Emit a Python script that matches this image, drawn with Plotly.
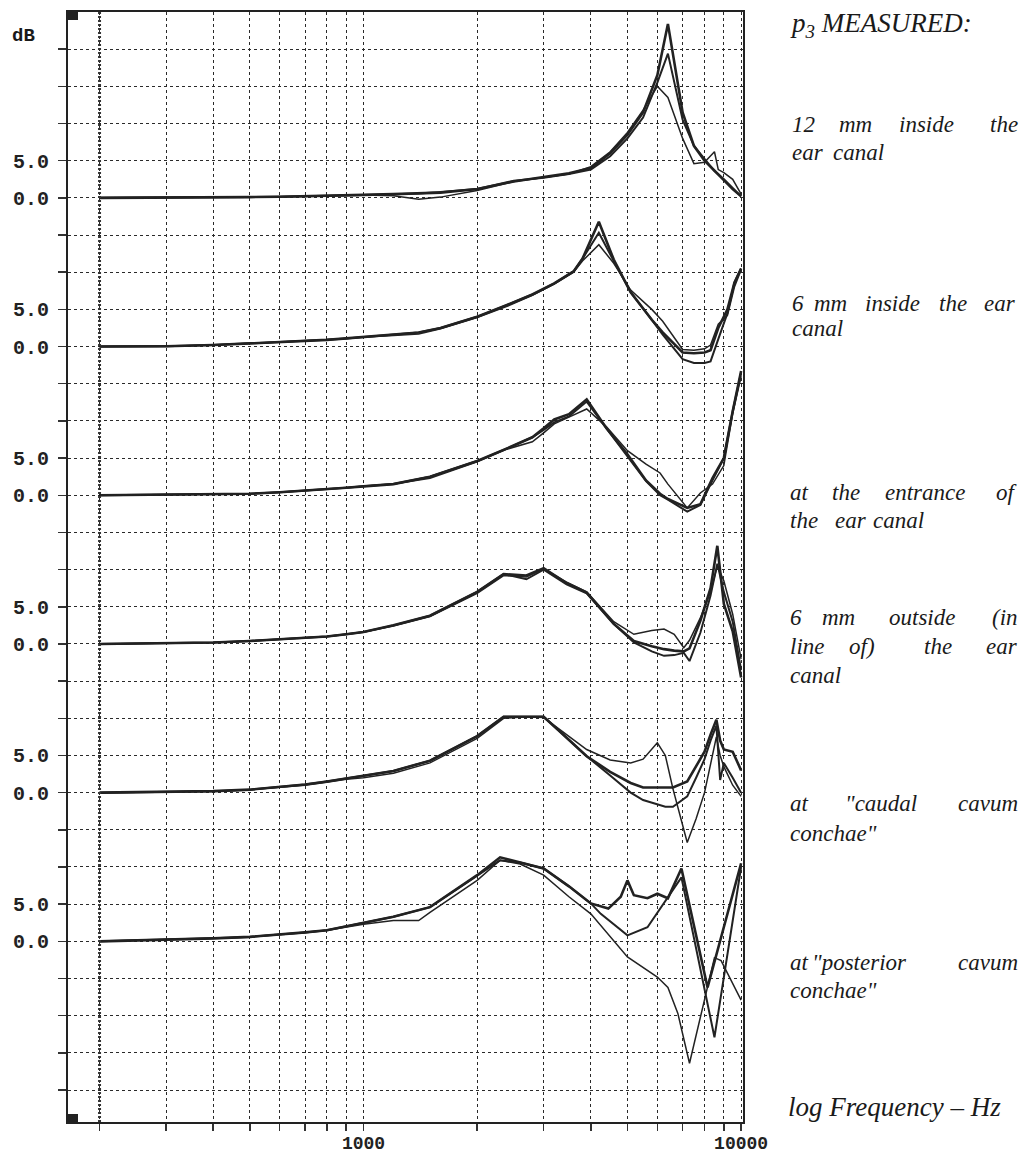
import plotly.graph_objects as go

# ---------------- data (dB relative to each group's own 0.0 line) ----------------
group_names = ["12 mm inside", "6 mm inside", "entrance", "6 mm outside", "caudal cavum conchae", "posterior cavum conchae"]
group_offsets = [100, 80, 60, 40, 20, 0]

f_g1 = [200, 300, 400, 500, 600, 700, 800, 900, 1000, 1200, 1400, 1600, 2000, 2500, 3000, 3500, 4000, 4500, 5000, 5500, 6000, 6400, 7000, 7500, 8000, 8500, 9000, 9500, 10000]
g1_a = [0, 0, 0.05, 0.1, 0.15, 0.2, 0.25, 0.3, 0.4, 0.5, 0.6, 0.7, 1.2, 2.2, 2.8, 3.3, 4.0, 6.0, 8.5, 11.5, 16.5, 23.4, 11.5, 7.0, 5.0, 3.6, 2.4, 1.2, 0.2]
g1_b = [0, 0, 0.05, 0.1, 0.15, 0.2, 0.25, 0.3, 0.4, 0.5, 0.6, 0.8, 1.2, 2.3, 2.7, 3.2, 3.8, 5.6, 8.0, 10.8, 15.5, 19.4, 10.5, 7.0, 5.2, 3.6, 2.5, 1.3, 0.2]
f_g1c = [200, 300, 400, 500, 600, 700, 800, 900, 1000, 1200, 1400, 1600, 2000, 2500, 3000, 3500, 4000, 4500, 5000, 5500, 6000, 6400, 7000, 7500, 8000, 8500, 8700, 9000, 9500, 10000]
g1_c = [0, 0, 0.05, 0.1, 0.15, 0.2, 0.25, 0.3, 0.4, 0.3, -0.2, 0.1, 1.0, 2.2, 2.7, 3.2, 4.2, 6.2, 8.8, 11.8, 15.0, 13.5, 8.0, 4.6, 4.8, 6.2, 3.8, 3.4, 2.5, 0.5]

f_g2 = [200, 300, 400, 500, 600, 700, 800, 900, 1000, 1200, 1400, 1600, 2000, 2400, 2800, 3200, 3600, 3800, 4200, 4600, 5100, 5800, 6200, 7000, 7500, 8000, 8300, 8700, 9200, 9600, 10000]
g2_a = [0, 0.05, 0.2, 0.4, 0.6, 0.8, 0.9, 1.1, 1.3, 1.6, 1.9, 2.5, 4.0, 5.6, 7.0, 8.5, 10.1, 11.8, 16.8, 11.7, 7.3, 3.6, 1.9, -0.8, -0.9, -0.8, -0.5, 2.5, 5.0, 8.6, 10.5]
g2_b = [0, 0.05, 0.2, 0.4, 0.6, 0.8, 0.9, 1.1, 1.3, 1.6, 1.9, 2.5, 4.0, 5.6, 7.0, 8.5, 10.1, 11.8, 15.3, 11.5, 7.3, 3.6, 1.6, -1.7, -2.2, -2.2, -2.0, 1.0, 4.5, 8.6, 10.5]
g2_c = [0, 0.05, 0.2, 0.4, 0.6, 0.8, 0.9, 1.1, 1.3, 1.5, 1.7, 2.4, 3.9, 5.4, 6.9, 8.4, 10.0, 11.5, 13.7, 11.2, 7.6, 5.0, 3.4, -0.4, -0.5, -0.3, 0.2, 3.0, 4.2, 8.0, 10.3]

f_g3 = [200, 300, 400, 500, 600, 700, 800, 900, 1000, 1200, 1500, 2000, 2400, 2800, 3000, 3200, 3500, 3900, 4400, 5000, 5600, 6100, 6400, 7200, 7800, 8400, 9000, 9500, 10000]
g3_a = [0, 0.05, 0.1, 0.2, 0.4, 0.6, 0.8, 1.0, 1.2, 1.5, 2.5, 4.6, 6.3, 7.8, 9.0, 10.2, 10.9, 12.9, 9.0, 5.5, 2.0, 0.2, -0.5, -1.7, -1.2, 2.3, 5.0, 11.3, 16.7]
g3_b = [0, 0.05, 0.1, 0.2, 0.4, 0.6, 0.8, 1.0, 1.2, 1.5, 2.5, 4.6, 6.3, 7.8, 8.8, 9.8, 10.6, 12.6, 9.0, 5.3, 1.9, 0.0, -0.6, -2.2, -1.3, 2.0, 5.0, 11.3, 16.5]
g3_c = [0, 0.05, 0.1, 0.2, 0.4, 0.6, 0.8, 1.0, 1.2, 1.5, 2.3, 4.5, 6.2, 7.2, 8.4, 9.6, 10.5, 11.6, 9.2, 6.0, 4.2, 3.0, 1.5, -1.7, 0.3, 1.5, 4.0, 11.0, 16.0]

f_g4 = [200, 300, 400, 500, 600, 700, 800, 900, 1000, 1200, 1500, 2000, 2350, 2700, 3000, 3450, 3900, 4600, 5200, 5800, 6250, 6650, 7050, 7300, 7800, 8300, 8650, 9000, 9500, 10000]
g4_a = [0, 0.1, 0.2, 0.4, 0.6, 0.8, 1.0, 1.3, 1.6, 2.5, 3.8, 7.0, 9.4, 9.2, 10.2, 8.2, 6.9, 2.7, 0.4, -0.3, -0.7, -0.9, -1.0, -0.6, 3.1, 7.5, 13.2, 5.4, 1.7, -4.5]
g4_b = [0, 0.1, 0.2, 0.4, 0.6, 0.8, 1.0, 1.3, 1.6, 2.5, 3.8, 7.0, 9.4, 8.7, 10.0, 8.0, 6.8, 2.7, 0.2, -1.0, -1.6, -1.5, -1.2, -2.3, 1.5, 6.5, 10.8, 7.0, 3.0, -3.5]
g4_c = [0, 0.1, 0.2, 0.4, 0.6, 0.8, 1.0, 1.3, 1.6, 2.4, 3.7, 6.8, 9.2, 9.0, 10.1, 8.3, 7.0, 3.0, 1.3, 1.8, 2.0, 1.3, -0.5, 0.5, 3.5, 7.0, 10.5, 8.5, 4.0, -2.0]

f_g5 = [200, 300, 400, 500, 600, 700, 800, 900, 1000, 1200, 1500, 2000, 2350, 2700, 3000, 3300, 3900, 4500, 5100, 5500, 6000, 6300, 6600, 7200, 7600, 8000, 8300, 8600, 8800, 9000, 9500, 10000]
g5_a = [0, 0.1, 0.2, 0.4, 0.8, 1.1, 1.5, 1.9, 2.2, 2.9, 4.3, 7.6, 10.2, 10.2, 10.2, 8.3, 4.9, 2.8, 1.3, 0.7, 0.7, 0.7, 0.7, 1.5, 3.5, 5.5, 7.8, 9.8, 7.0, 5.8, 5.5, 3.0]
g5_b = [0, 0.1, 0.2, 0.4, 0.8, 1.1, 1.5, 1.9, 2.2, 2.9, 4.3, 7.6, 10.2, 10.2, 10.2, 8.3, 4.9, 2.3, 0.0, -1.0, -1.6, -1.9, -1.9, -0.5, 2.0, 4.5, 7.0, 9.0, 1.7, 4.0, 2.0, 0.0]
g5_c = [0, 0.1, 0.2, 0.4, 0.7, 1.0, 1.4, 1.8, 2.0, 2.6, 4.0, 7.3, 10.0, 10.2, 10.1, 8.5, 5.8, 4.4, 4.0, 4.5, 6.7, 5.0, 0.5, -6.7, -3.5, 0.0, 4.0, 7.5, 5.0, 3.5, 1.0, -0.5]

f_g6a = [200, 300, 400, 500, 600, 700, 800, 900, 1000, 1200, 1500, 2000, 2300, 2600, 3000, 3500, 4000, 4450, 4800, 5000, 5200, 5650, 6000, 6400, 6950, 8150, 9000, 10000]
g6_a = [0, 0.2, 0.4, 0.6, 0.9, 1.2, 1.5, 2.0, 2.5, 3.3, 4.6, 8.9, 11.3, 10.6, 9.8, 7.4, 5.1, 4.4, 6.0, 8.2, 6.2, 5.8, 6.4, 5.8, 9.8, -6.2, 2.0, 10.5]
f_g6b = [200, 300, 400, 500, 600, 700, 800, 900, 1000, 1200, 1500, 2000, 2300, 2600, 3000, 3500, 4000, 4250, 5000, 5650, 6400, 6950, 8500, 10000]
g6_b = [0, 0.2, 0.4, 0.6, 0.9, 1.2, 1.5, 2.0, 2.5, 3.3, 4.6, 8.9, 10.9, 10.6, 9.8, 7.4, 5.1, 3.7, 0.8, 1.9, 6.0, 8.6, -12.9, 10.0]
f_g6c = [200, 300, 400, 500, 600, 700, 800, 900, 1000, 1200, 1400, 1500, 2000, 2300, 2600, 3000, 3500, 4000, 5000, 6000, 6400, 6800, 7300, 8500, 8850, 10000]
g6_c = [0, 0.2, 0.4, 0.6, 0.9, 1.2, 1.5, 1.9, 2.3, 2.8, 2.8, 3.9, 8.2, 10.9, 10.4, 8.9, 6.0, 3.7, -2.1, -4.8, -6.2, -9.7, -16.4, -2.2, -2.6, -7.9]

groups = [
    [(f_g1, g1_a), (f_g1, g1_b), (f_g1c, g1_c)],
    [(f_g2, g2_a), (f_g2, g2_b), (f_g2, g2_c)],
    [(f_g3, g3_a), (f_g3, g3_b), (f_g3, g3_c)],
    [(f_g4, g4_a), (f_g4, g4_b), (f_g4, g4_c)],
    [(f_g5, g5_a), (f_g5, g5_b), (f_g5, g5_c)],
    [(f_g6a, g6_a), (f_g6b, g6_b), (f_g6c, g6_c)],
]

x_grid = [200, 300, 400, 500, 600, 700, 800, 900, 1000, 2000, 3000, 4000, 5000, 6000, 7000, 8000, 9000, 10000]
x_labels = {1000: "1000", 10000: "10000"}
y_min, y_max = -24.3, 125

# ---------------- figure ----------------
W, H = 1023, 1153
L, T = 68, 12
R = W - 743
B = H - 1122
pw, ph = W - L - R, H - T - B

fig = go.Figure()

line_widths = [2.6, 2.0, 1.5]
for off, curves in zip(group_offsets, groups):
    for (fx, vals), lw in zip(curves, line_widths):
        fig.add_trace(go.Scatter(x=fx, y=[v + off for v in vals], mode="lines",
                                 line=dict(color="#222222", width=lw), hoverinfo="skip"))

# heavy dotted 200 Hz line
fig.add_trace(go.Scatter(x=[x_grid[0], x_grid[0]], y=[y_min, y_max], mode="lines",
                         line=dict(color="#333333", width=3, dash="2px,2px"), hoverinfo="skip"))

y_ticks = list(range(-20, 125, 5))
y_text = []
for v in y_ticks:
    if v in group_offsets:
        y_text.append("0.0")
    elif (v - 5) in group_offsets:
        y_text.append("5.0")
    else:
        y_text.append("")

tick_font = dict(family="Liberation Mono", size=20, color="#222222", weight="bold")
x_tick_font = dict(family="Liberation Mono", size=18, color="#222222", weight="bold")

fig.update_xaxes(type="log", range=[2.2175, 4.005], automargin=False,
                 tickvals=x_grid, ticktext=[x_labels.get(v, "") for v in x_grid],
                 ticks="outside", ticklen=7, tickwidth=1.5, tickcolor="#333",
                 showgrid=True, gridcolor="#2a2a2a", griddash="dot", gridwidth=1,
                 showline=True, linecolor="#222", linewidth=2, mirror=True,
                 zeroline=False, tickfont=x_tick_font, ticklabelstandoff=-4)
fig.update_yaxes(range=[y_min, y_max], automargin=False, tickvals=y_ticks, ticktext=y_text,
                 ticks="outside", ticklen=8, tickwidth=1.5, tickcolor="#333",
                 showgrid=True, gridcolor="#2a2a2a", griddash="dot", gridwidth=1,
                 showline=True, linecolor="#222", linewidth=2, mirror=True,
                 zeroline=False, tickfont=tick_font, ticklabelstandoff=5)

# corner squares
sq_w, sq_h = 10 / pw, 8 / ph
fig.add_shape(type="rect", xref="paper", yref="paper", x0=0, x1=sq_w, y0=1 - sq_h, y1=1,
              fillcolor="#222", line=dict(width=0))
fig.add_shape(type="rect", xref="paper", yref="paper", x0=0, x1=sq_w, y0=0, y1=sq_h,
              fillcolor="#222", line=dict(width=0))


def px_to_paper(px, py):
    return (px - L) / pw, (H - B - py) / ph


def add_text(txt, px, py, family, size, weight="normal", anchor="left"):
    xp, yp = px_to_paper(px, py)
    fig.add_annotation(xref="paper", yref="paper", x=xp, y=yp, text=txt, showarrow=False,
                       xanchor=anchor, yanchor="middle",
                       font=dict(family=family, size=size, color="#1a1a1a", weight=weight))


# dB label
add_text("dB", 10, 36, "Liberation Mono", 19, "bold")

serif = "Liberation Serif"
add_text("<i>p<sub>3</sub> MEASURED:</i>", 788, 25, serif, 27)

RIGHT = 1020
# descriptive labels, words placed as in the (justified) original; None = right-justified
lines = [
    (125, [("12", 790), ("mm", 837), ("inside", 897), ("the", None)]),
    (152, [("ear", 790), ("canal", 831)]),
    (303, [("6", 790), ("mm", 812), ("inside", 863), ("the", 937), ("ear", 982)]),
    (328, [("canal", 790)]),
    (492, [("at", 788), ("the", 830), ("entrance", 883), ("of", None)]),
    (520, [("the", 788), ("ear", 833), ("canal", 871)]),
    (617, [("6", 788), ("mm", 820), ("outside", 887), ("(in", None)]),
    (647, [("line", 788), ("of)", 847), ("the", 922), ("ear", None)]),
    (675, [("canal", 788)]),
    (803, [("at", 788), ("\"caudal", 843), ("cavum", None)]),
    (833, [("conchae\"", 788)]),
    (962, [("at", 788), ("\"posterior", 810), ("cavum", None)]),
    (990, [("conchae\"", 788)]),
]
for py, words in lines:
    for w, px in words:
        if px is None:
            add_text("<i>" + w + "</i>", RIGHT, py, serif, 23, anchor="right")
        else:
            add_text("<i>" + w + "</i>", px, py, serif, 23)

add_text("<i>log Frequency – Hz</i>", 786, 1107, serif, 27)

fig.update_layout(width=W, height=H, margin=dict(l=L, r=R, t=T, b=B, autoexpand=False),
                  paper_bgcolor="white", plot_bgcolor="white", showlegend=False,
                  hovermode=False)

fig.write_html("out.html", config={"displayModeBar": False, "staticPlot": True},
               post_script="document.body.style.margin='0px';document.body.style.overflow='hidden';")
